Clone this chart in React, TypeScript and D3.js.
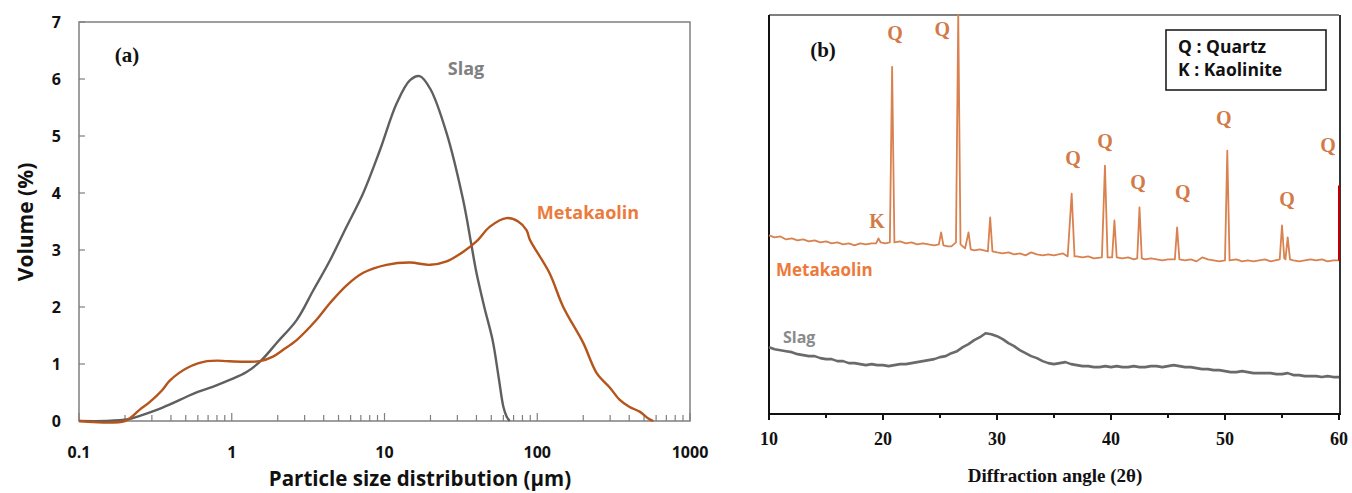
import React from 'react';
import * as d3 from 'd3';

// ---------- Panel (a): particle size distribution ----------
const slagSize = [0.1, 0.15, 0.21, 0.25, 0.32, 0.4, 0.51, 0.6, 0.75, 0.97, 1.25, 1.53, 2.0, 2.66, 3.4, 4.4, 5.6, 7.26, 9.33, 12, 14.7, 17, 20, 25.5, 32.7, 37, 40, 45, 51, 56, 60, 63, 66];
const slagVol = [0, 0, 0.03, 0.09, 0.19, 0.3, 0.43, 0.51, 0.6, 0.72, 0.86, 1.04, 1.39, 1.77, 2.28, 2.82, 3.39, 4.0, 4.75, 5.57, 5.98, 6.05, 5.82, 5.05, 3.88, 3.1, 2.6, 2.0, 1.42, 0.75, 0.25, 0.08, 0];

const mkSize = [0.1, 0.2, 0.25, 0.29, 0.35, 0.39, 0.45, 0.51, 0.6, 0.69, 0.8, 0.93, 1.2, 1.53, 1.86, 2.17, 2.66, 3.6, 4.4, 5.65, 7.26, 10.3, 14.7, 19.9, 25.5, 32.8, 40, 49, 63, 75, 85, 89.5, 120, 148, 200, 245, 300, 347, 400, 471, 530, 575];
const mkVol = [0, 0, 0.2, 0.33, 0.54, 0.7, 0.84, 0.93, 1.01, 1.05, 1.06, 1.05, 1.04, 1.05, 1.13, 1.25, 1.42, 1.78, 2.07, 2.38, 2.6, 2.74, 2.78, 2.74, 2.8, 2.97, 3.15, 3.41, 3.56, 3.5, 3.35, 3.18, 2.6, 2.0, 1.37, 0.84, 0.58, 0.37, 0.25, 0.16, 0.05, 0];

const psdXTicks = [0.1, 1, 10, 100, 1000];
const psdXTickLabels = ['0.1', '1', '10', '100', '1000'];
const psdYTicks = [0, 1, 2, 3, 4, 5, 6, 7];

// ---------- Panel (b): XRD ----------
const mkTheta = [10, 10.5, 11, 11.5, 12, 12.5, 13, 13.5, 14, 14.5, 15, 15.5, 16, 16.5, 17, 17.5, 18, 18.5, 19, 19.4, 19.6, 19.8, 20.2, 20.6, 20.8, 21.0, 21.5, 22, 22.5, 23, 23.5, 24, 24.5, 24.9, 25.1, 25.3, 25.7, 26, 26.4, 26.6, 26.8, 27.2, 27.5, 27.7, 28, 28.5, 29.2, 29.4, 29.6, 30, 30.5, 31, 31.5, 32, 32.5, 33, 33.5, 34, 34.5, 35, 35.8, 36.2, 36.55, 36.8, 37, 37.5, 38, 38.5, 39.2, 39.47, 39.7, 40.1, 40.3, 40.5, 41, 41.5, 42, 42.3, 42.5, 42.7, 43, 43.5, 44, 44.5, 45, 45.6, 45.8, 46, 46.5, 47, 47.5, 48, 48.5, 49, 49.5, 50, 50.2, 50.4, 51, 51.5, 52, 52.5, 53, 53.5, 54, 54.8, 55.0, 55.2, 55.3, 55.5, 55.7, 56, 56.5, 57, 57.5, 58, 58.5, 59, 59.5, 60];
const mkInt = [179, 177, 178, 175, 176, 174, 175, 173, 174, 172, 173, 171, 172, 170, 171, 169, 171, 170, 171, 171, 176, 172, 171, 172, 348, 172, 173, 171, 172, 170, 171, 170, 169, 170, 182, 169, 168, 168, 172, 400, 170, 166, 182, 165, 164, 165, 163, 197, 163, 162, 161, 162, 160, 161, 159, 162, 160, 159, 160, 159, 161, 158, 221, 158, 158, 157, 158, 156, 157, 249, 157, 157, 194, 157, 156, 157, 155, 156, 207, 156, 155, 156, 155, 154, 155, 155, 187, 155, 154, 155, 153, 157, 155, 154, 153, 154, 264, 154, 155, 153, 154, 153, 154, 155, 153, 155, 189, 156, 155, 177, 155, 154, 153, 154, 155, 154, 155, 153, 154, 154];

const slagTheta = [10, 10.5, 11, 11.5, 12, 12.5, 13, 13.5, 14, 14.5, 15, 15.5, 16, 16.5, 17, 17.5, 18, 18.5, 19, 19.5, 20, 20.5, 21, 21.5, 22, 22.5, 23, 23.5, 24, 24.5, 25, 25.5, 26, 26.5, 27, 27.5, 28, 28.5, 29, 29.5, 30, 30.5, 31, 31.5, 32, 32.5, 33, 33.5, 34, 34.5, 35, 35.5, 36, 36.5, 37, 37.5, 38, 38.5, 39, 39.5, 40, 40.5, 41, 41.5, 42, 42.5, 43, 43.5, 44, 44.5, 45, 45.5, 46, 46.5, 47, 47.5, 48, 48.5, 49, 49.5, 50, 50.5, 51, 51.5, 52, 52.5, 53, 53.5, 54, 54.5, 55, 55.5, 56, 56.5, 57, 57.5, 58, 58.5, 59, 59.5, 60];
const slagInt = [67, 65, 64, 63, 62, 60, 59, 58, 58, 56, 55, 55, 53, 53, 51, 51, 50, 49, 50, 49, 49, 48, 49, 50, 50, 51, 52, 53, 54, 55, 57, 58, 61, 63, 67, 70, 74, 77, 81, 80, 78, 75, 71, 68, 64, 61, 58, 56, 53, 51, 50, 51, 52, 50, 49, 48, 48, 47, 47, 48, 47, 48, 47, 47, 48, 47, 47, 48, 48, 47, 48, 49, 48, 47, 47, 46, 45, 45, 44, 44, 43, 42, 42, 43, 42, 41, 41, 41, 41, 40, 40, 41, 39, 39, 38, 38, 38, 37, 38, 37, 37];

const redPeakTheta = [60, 60];
const redPeakInt = [154, 229];

const qLabelTheta = [21.05, 25.2, 36.67, 39.47, 42.37, 46.3, 49.9, 55.44, 59.04, 19.47];
const qLabelInt = [382, 386, 257, 274, 233, 223, 297, 216, 270, 193];
const qLabelText = ['Q', 'Q', 'Q', 'Q', 'Q', 'Q', 'Q', 'Q', 'Q', 'K'];

const xrdXTicks = [10, 20, 30, 40, 50, 60];
const xrdMinorTicks = [15, 25, 35, 45, 55];
const legendLines = ['Q : Quartz', 'K : Kaolinite'];

const SANS = '"Open Sans", "Noto Sans", sans-serif';
const SERIF = '"Liberation Serif", "DejaVu Serif", serif';

export default function App() {
  // panel a
  const xA = d3.scaleLog().domain([0.1, 1000]).range([79, 690]);
  const yA = d3.scaleLinear().domain([0, 7]).range([421, 22]);
  const lineA = d3
    .line<[number, number]>()
    .x((d) => xA(d[0]))
    .y((d) => Math.min(421, yA(d[1])))
    .curve(d3.curveCatmullRom.alpha(0.5));
  const slagPts = slagSize.map((s, i) => [s, slagVol[i]] as [number, number]);
  const mkPts = mkSize.map((s, i) => [s, mkVol[i]] as [number, number]);

  const minorA: number[] = [];
  [0.1, 1, 10, 100].forEach((dec) => {
    for (let k = 2; k <= 9; k++) minorA.push(dec * k);
  });

  // panel b
  const xB = d3.scaleLinear().domain([10, 60]).range([769, 1339]);
  const yB = d3.scaleLinear().domain([0, 400]).range([414, 15]);
  const lineB = d3
    .line<[number, number]>()
    .x((d) => xB(d[0]))
    .y((d) => yB(d[1]));
  const mkXrd = mkTheta.map((t, i) => [t, mkInt[i]] as [number, number]);
  const slagXrd = slagTheta.map((t, i) => [t, slagInt[i]] as [number, number]);
  const redPts = redPeakTheta.map((t, i) => [t, redPeakInt[i]] as [number, number]);

  return (
    <div style={{ position: 'absolute', left: 0, top: 0 }}>
      <svg width={1352} height={493} style={{ display: 'block', background: '#fff' }}>
        {/* ---------- Panel (a) ---------- */}
        <rect x={79} y={22} width={611} height={399} fill="none" stroke="#7f7f7f" strokeWidth={1.5} />
        {psdYTicks.map((t) => (
          <g key={'ya' + t}>
            <line x1={79} x2={85} y1={yA(t)} y2={yA(t)} stroke="#7f7f7f" strokeWidth={1.2} />
            <text x={61} y={yA(t)} textAnchor="end" dominantBaseline="central" fontFamily={SANS} fontWeight={700} fontSize={16} fill="#111">
              {t}
            </text>
          </g>
        ))}
        {minorA.map((t, i) => (
          <line key={'mn' + i} x1={xA(t)} x2={xA(t)} y1={421} y2={415} stroke="#7f7f7f" strokeWidth={1.2} />
        ))}
        {psdXTicks.map((t, i) => (
          <g key={'xa' + t}>
            <line x1={xA(t)} x2={xA(t)} y1={421} y2={413} stroke="#7f7f7f" strokeWidth={1.2} />
            <text x={xA(t)} y={452} textAnchor="middle" dominantBaseline="central" fontFamily={SANS} fontWeight={700} fontSize={16} fill="#111">
              {psdXTickLabels[i]}
            </text>
          </g>
        ))}
        <path d={lineA(slagPts) || ''} fill="none" stroke="#5f5f5f" strokeWidth={2.4} />
        <path d={lineA(mkPts) || ''} fill="none" stroke="#b5541b" strokeWidth={2.4} />
        <text x={127} y={55} textAnchor="middle" dominantBaseline="central" fontFamily={SERIF} fontWeight={700} fontSize={21} fill="#111">(a)</text>
        <text x={466} y={68} textAnchor="middle" dominantBaseline="central" fontFamily={SANS} fontWeight={700} fontSize={18} fill="#808080">Slag</text>
        <text x={588} y={212} textAnchor="middle" dominantBaseline="central" fontFamily={SANS} fontWeight={700} fontSize={18} fill="#ec7a3b">Metakaolin</text>
        <text transform="translate(25,222) rotate(-90)" textAnchor="middle" dominantBaseline="central" fontFamily={SANS} fontWeight={700} fontSize={21} fill="#111">Volume (%)</text>
        <text x={420} y={478} textAnchor="middle" dominantBaseline="central" fontFamily={SANS} fontWeight={700} fontSize={20.5} fill="#111">Particle size distribution (µm)</text>

        {/* ---------- Panel (b) ---------- */}
        <line x1={769} x2={1339} y1={15} y2={15} stroke="#555" strokeWidth={1.5} />
        <line x1={769} x2={769} y1={15} y2={415} stroke="#111" strokeWidth={2} />
        <line x1={1340} x2={1340} y1={15} y2={415} stroke="#333" strokeWidth={2} />
        <line x1={768} x2={1341} y1={414} y2={414} stroke="#111" strokeWidth={2} />
        {xrdXTicks.map((t) => (
          <g key={'xb' + t}>
            <line x1={xB(t)} x2={xB(t)} y1={414} y2={420} stroke="#111" strokeWidth={2} />
            <text x={xB(t)} y={439} textAnchor="middle" dominantBaseline="central" fontFamily={SERIF} fontWeight={700} fontSize={18} fill="#111">
              {t}
            </text>
          </g>
        ))}
        {xrdMinorTicks.map((t) => (
          <line key={'mb' + t} x1={xB(t)} x2={xB(t)} y1={414} y2={418} stroke="#111" strokeWidth={2} />
        ))}
        <path d={lineB(slagXrd) || ''} fill="none" stroke="#6a6a6a" strokeWidth={2.6} strokeLinejoin="round" />
        <path d={lineB(mkXrd) || ''} fill="none" stroke="#d9814f" strokeWidth={1.8} strokeLinejoin="round" />
        <path d={lineB(redPts) || ''} fill="none" stroke="#c00000" strokeWidth={2} />
        {qLabelText.map((q, i) => (
          <text key={'q' + i} x={xB(qLabelTheta[i])} y={yB(qLabelInt[i])} textAnchor="middle" dominantBaseline="central" fontFamily={SERIF} fontWeight={700} fontSize={20} fill="#d27a48">
            {q}
          </text>
        ))}
        <text x={823} y={50} textAnchor="middle" dominantBaseline="central" fontFamily={SERIF} fontWeight={700} fontSize={21} fill="#111">(b)</text>
        <rect x={1166} y={30} width={160} height={60} fill="#fff" stroke="#111" strokeWidth={1.5} />
        {legendLines.map((l, i) => (
          <text key={'lg' + i} x={1178} y={53 + i * 23} fontFamily={SANS} fontWeight={700} fontSize={17.5} fill="#111">
            {l}
          </text>
        ))}
        <text x={776} y={269} dominantBaseline="central" fontFamily={SANS} fontWeight={700} fontSize={17} fill="#ec7a3b">Metakaolin</text>
        <text x={783} y={337} dominantBaseline="central" fontFamily={SANS} fontWeight={700} fontSize={16} fill="#8a8a8a">Slag</text>
        <text x={1055} y={475} textAnchor="middle" dominantBaseline="central" fontFamily={SERIF} fontWeight={700} fontSize={19} fill="#111">Diffraction angle (2θ)</text>
      </svg>
    </div>
  );
}
